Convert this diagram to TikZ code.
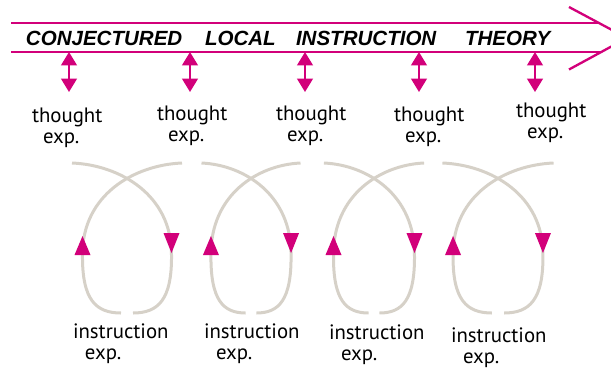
\documentclass[tikz,border=0pt]{standalone}
\usepackage{fontspec}
\setmainfont{PT Sans}
\newfontfamily\titlefont{Liberation Sans}
\usetikzlibrary{arrows.meta}
\definecolor{cliMagenta}{RGB}{210,0,122}
\definecolor{loopGrey}{RGB}{214,209,200}

\begin{document}
\begin{tikzpicture}[x=0.75pt,y=-0.75pt,
  every node/.style={inner sep=0pt,outer sep=0pt,font=\fontsize{15.6}{15.75}\selectfont},
  word/.style={anchor=base west,font=\titlefont\fontsize{15.4}{16}\selectfont\bfseries\itshape},
  lbl/.style={anchor=base west,align=left},
  band/.style={draw=cliMagenta,line width=1.75pt},
  dblarrow/.style={draw=cliMagenta,line width=1.5pt,
    {Triangle[length=10pt,width=11.75pt]}-{Triangle[length=10pt,width=11.75pt]}},
  loopline/.style={draw=loopGrey,line width=2.25pt},
  looptip/.style={fill=cliMagenta}]
\useasboundingbox (0,0) rectangle (611,369);
\draw[band] (11,23) -- (599,23) (11,52) -- (601.5,52);
\draw[band] (569,7) -- (627,38) -- (569,69.5);
\foreach \x/\w/\n in {26/CONJECTURED/w1,205/LOCAL/w2,296/INSTRUCTION/w3,465/THEORY/w4}
  \node[word] (\n) at (\x,45) {\w};
\foreach \a/\x/\y [count=\i] in {69/32/143,190/157/141,305/276/141,419/394/142,535/516/138}
{
  \coordinate (top\i) at (\a,52);
  \coordinate (bot\i) at (\a,92);
  \node[lbl] (th\i) at (\x,\y) {thought\\\hspace*{8.25pt}exp.};
  \draw[dblarrow] (top\i) -- (bot\i);
}
\foreach \cx/\s [count=\i] in {127/1,251/0.9,374/0.91,498/1.01}
{
  \draw[loopline] ({\cx-55*\s},163) .. controls ({\cx-7*\s},165) and ({\cx+45*\s},195) .. ({\cx+44.5*\s},255)
    .. controls ({\cx+45*\s},300) and ({\cx+31*\s},313) .. ({\cx+6*\s},313);
  \draw[loopline] ({\cx+55*\s},163) .. controls ({\cx+7*\s},165) and ({\cx-45*\s},195) .. ({\cx-44.5*\s},255)
    .. controls ({\cx-45*\s},300) and ({\cx-31*\s},313) .. ({\cx-6*\s},313);
  \fill[looptip] ({\cx-44.5*\s-8},255) -- ({\cx-44.5*\s+8},255) -- ({\cx-44.5*\s},236) -- cycle;
  \fill[looptip] ({\cx+44.5*\s-8},233) -- ({\cx+44.5*\s+8},233) -- ({\cx+44.5*\s},253) -- cycle;
}
\foreach \x/\y [count=\i] in {73/359,204/359,329/360,451/363}
  \node[lbl] (in\i) at (\x,\y) {instruction\\\hspace*{9pt}exp.};
\end{tikzpicture}
\end{document}
